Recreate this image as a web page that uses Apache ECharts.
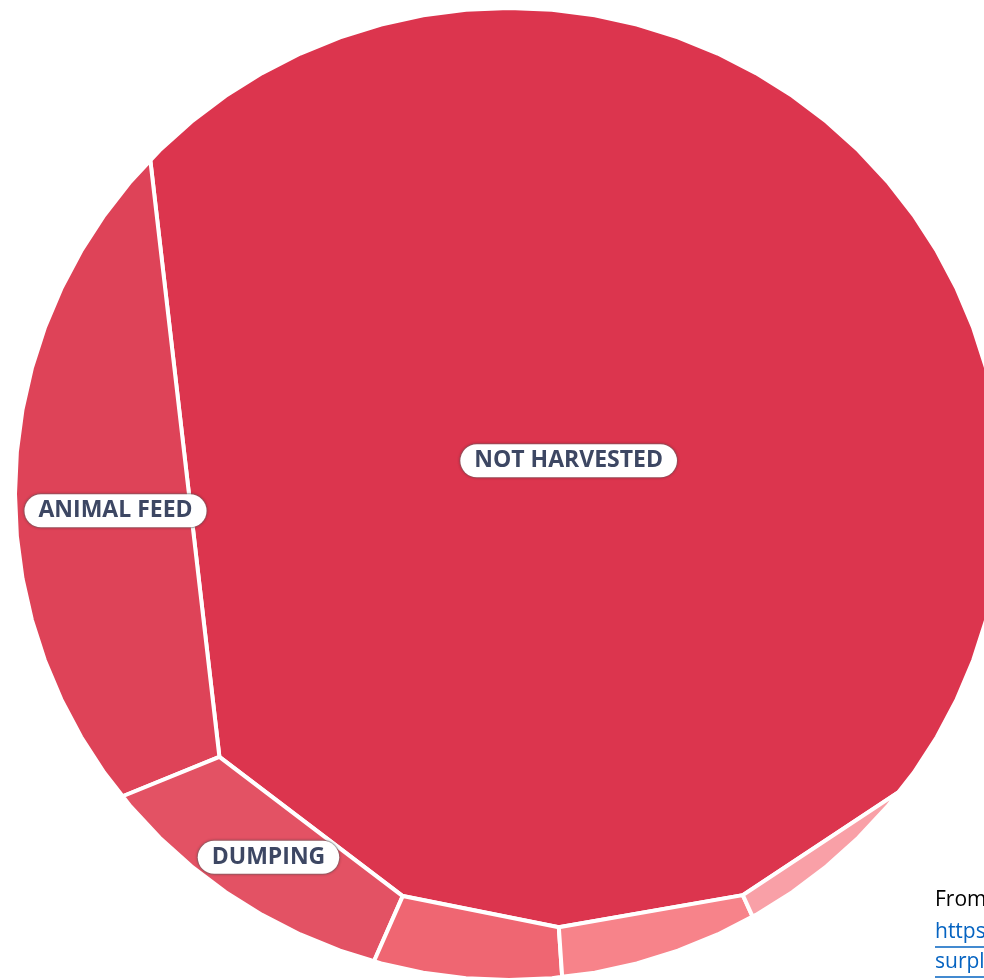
<!DOCTYPE html>
<html>
<head>
<meta charset="utf-8">
<script src="https://cdn.jsdelivr.net/npm/echarts@6/dist/echarts.min.js"></script>
<style>
html,body{margin:0;padding:0;background:#ffffff;}
#chart{width:984px;height:980px;}
</style>
</head>
<body>
<div id="chart"></div>
<script>
// ---------------- data ----------------
const categories = ['NOT HARVESTED', 'ANIMAL FEED', 'DUMPING', 'LAND APPLICATION', 'COMPOSTING', 'DONATIONS'];
const values = [82.5, 11.0, 3.4, 1.5, 1.1, 0.45];

// ---------------- styles / layout ----------------
const palette = ['#DC354E', '#DE4358', '#E35264', '#EF6672', '#F7838A', '#F9A0A7'];
// Seed sites for the power-diagram (Voronoi treemap) layout, in unit-circle coordinates
const seedSites = [[0.1174, -0.0720], [-0.8036, 0.0329], [-0.5101, 0.7407], [-0.085, 0.925], [0.29, 0.90], [0.66, 0.735]];
const layout = { cx: 509, cy: 494, rx: 494, ry: 486, sides: 72, labelMinShare: 0.03 };
const sourceLines = ['From', 'https', 'surpl'];

// ---------------- Voronoi treemap (power diagram) helpers ----------------
function circlePolygon(n) {
  const pts = [];
  for (let k = 0; k < n; k++) {
    const t = -Math.PI / 2 + 2 * Math.PI * k / n;
    pts.push([Math.cos(t), Math.sin(t)]);
  }
  return pts;
}
function clipHalf(poly, a, b, c) {
  const out = [];
  const m = poly.length;
  for (let k = 0; k < m; k++) {
    const P = poly[k], Q = poly[(k + 1) % m];
    const fp = a * P[0] + b * P[1] - c, fq = a * Q[0] + b * Q[1] - c;
    if (fp <= 0) out.push(P);
    if ((fp < 0 && fq > 0) || (fp > 0 && fq < 0)) {
      const t = fp / (fp - fq);
      out.push([P[0] + t * (Q[0] - P[0]), P[1] + t * (Q[1] - P[1])]);
    }
  }
  return out;
}
function polyArea(p) {
  if (!p || p.length < 3) return 0;
  let s = 0;
  for (let k = 0; k < p.length; k++) {
    const P = p[k], Q = p[(k + 1) % p.length];
    s += P[0] * Q[1] - Q[0] * P[1];
  }
  return Math.abs(s) / 2;
}
function polyCentroid(p) {
  let s = 0, x = 0, y = 0;
  for (let k = 0; k < p.length; k++) {
    const P = p[k], Q = p[(k + 1) % p.length];
    const cr = P[0] * Q[1] - Q[0] * P[1];
    s += cr; x += (P[0] + Q[0]) * cr; y += (P[1] + Q[1]) * cr;
  }
  return [x / (3 * s), y / (3 * s)];
}
function cellOf(i, sites, w, base) {
  let poly = base;
  const si = sites[i];
  for (let j = 0; j < sites.length; j++) {
    if (j === i) continue;
    const sj = sites[j];
    const a = 2 * (sj[0] - si[0]), b = 2 * (sj[1] - si[1]);
    const c = (sj[0] * sj[0] + sj[1] * sj[1]) - (si[0] * si[0] + si[1] * si[1]) - w[j] + w[i];
    poly = clipHalf(poly, a, b, c);
    if (poly.length < 3) return [];
  }
  return poly;
}
function solveCells(sites, vals, base) {
  const n = sites.length;
  const sum = vals.reduce((s, v) => s + v, 0);
  const total = polyArea(base);
  const target = vals.map(v => v / sum * total);
  let w = new Array(n).fill(0);
  for (let it = 0; it < 1500; it++) {
    const nw = w.slice();
    let maxErr = 0;
    for (let i = 0; i < n; i++) {
      const A = polyArea(cellOf(i, sites, w, base));
      const err = target[i] - A;
      maxErr = Math.max(maxErr, Math.abs(err) / total);
      const h = 1e-5;
      const w2 = w.slice(); w2[i] += h;
      const d = (polyArea(cellOf(i, sites, w2, base)) - A) / h;
      let step = d > 1e-9 ? err / d : (err > 0 ? 0.02 : -0.02);
      step = Math.max(-0.05, Math.min(0.05, step));
      nw[i] = w[i] + 0.5 * step;
    }
    w = nw;
    if (maxErr < 1e-7) break;
  }
  return sites.map((s, i) => cellOf(i, sites, w, base));
}

const basePoly = circlePolygon(layout.sides);
const cells = solveCells(seedSites, values, basePoly);
const totalValue = values.reduce((s, v) => s + v, 0);

function toPx(pt) {
  return [layout.cx + pt[0] * layout.rx, layout.cy + pt[1] * layout.ry];
}

// ---------------- chart ----------------
const chart = echarts.init(document.getElementById('chart'), null, { renderer: 'canvas' });

const graphicEls = [];
const srcTop = [890, 922, 952];
const srcColors = ['#000000', '#0563C1', '#0563C1'];
sourceLines.forEach((t, k) => {
  graphicEls.push({
    type: 'text', x: 935, y: srcTop[k],
    style: { text: t, font: '21px "Open Sans", Arial, sans-serif', fill: srcColors[k] }
  });
  if (k > 0) {
    graphicEls.push({
      type: 'line', shape: { x1: 935, y1: srcTop[k] + 25, x2: 984, y2: srcTop[k] + 25 },
      style: { stroke: '#0563C1', lineWidth: 1.5 }
    });
  }
});

chart.setOption({
  animation: false,
  backgroundColor: '#ffffff',
  graphic: graphicEls,
  series: [{
    type: 'custom',
    coordinateSystem: 'none',
    data: categories.map((c, i) => ({ name: c, value: values[i] })),
    renderItem: function (params, api) {
      const i = params.dataIndex;
      const cell = cells[i];
      if (!cell || cell.length < 3) return null;
      const pts = cell.map(toPx);
      const children = [{
        type: 'polygon',
        shape: { points: pts },
        style: { fill: palette[i], stroke: '#ffffff', lineWidth: 4, lineJoin: 'round' },
        z2: 1
      }];
      if (values[i] / totalValue >= layout.labelMinShare) {
        const c = polyCentroid(pts);
        children.push({
          type: 'text',
          x: c[0], y: c[1],
          z2: 100,
          style: {
            text: categories[i],
            font: 'bold 23px "Open Sans", sans-serif',
            fill: '#3D4763',
            align: 'center',
            verticalAlign: 'middle',
            backgroundColor: '#ffffff',
            borderColor: 'rgba(120,120,120,0.45)',
            borderWidth: 1,
            borderRadius: 17,
            padding: [6, 14, 4, 14],
            shadowBlur: 3,
            shadowColor: 'rgba(0,0,0,0.25)'
          }
        });
      }
      return { type: 'group', children: children };
    }
  }]
});
</script>
</body>
</html>
